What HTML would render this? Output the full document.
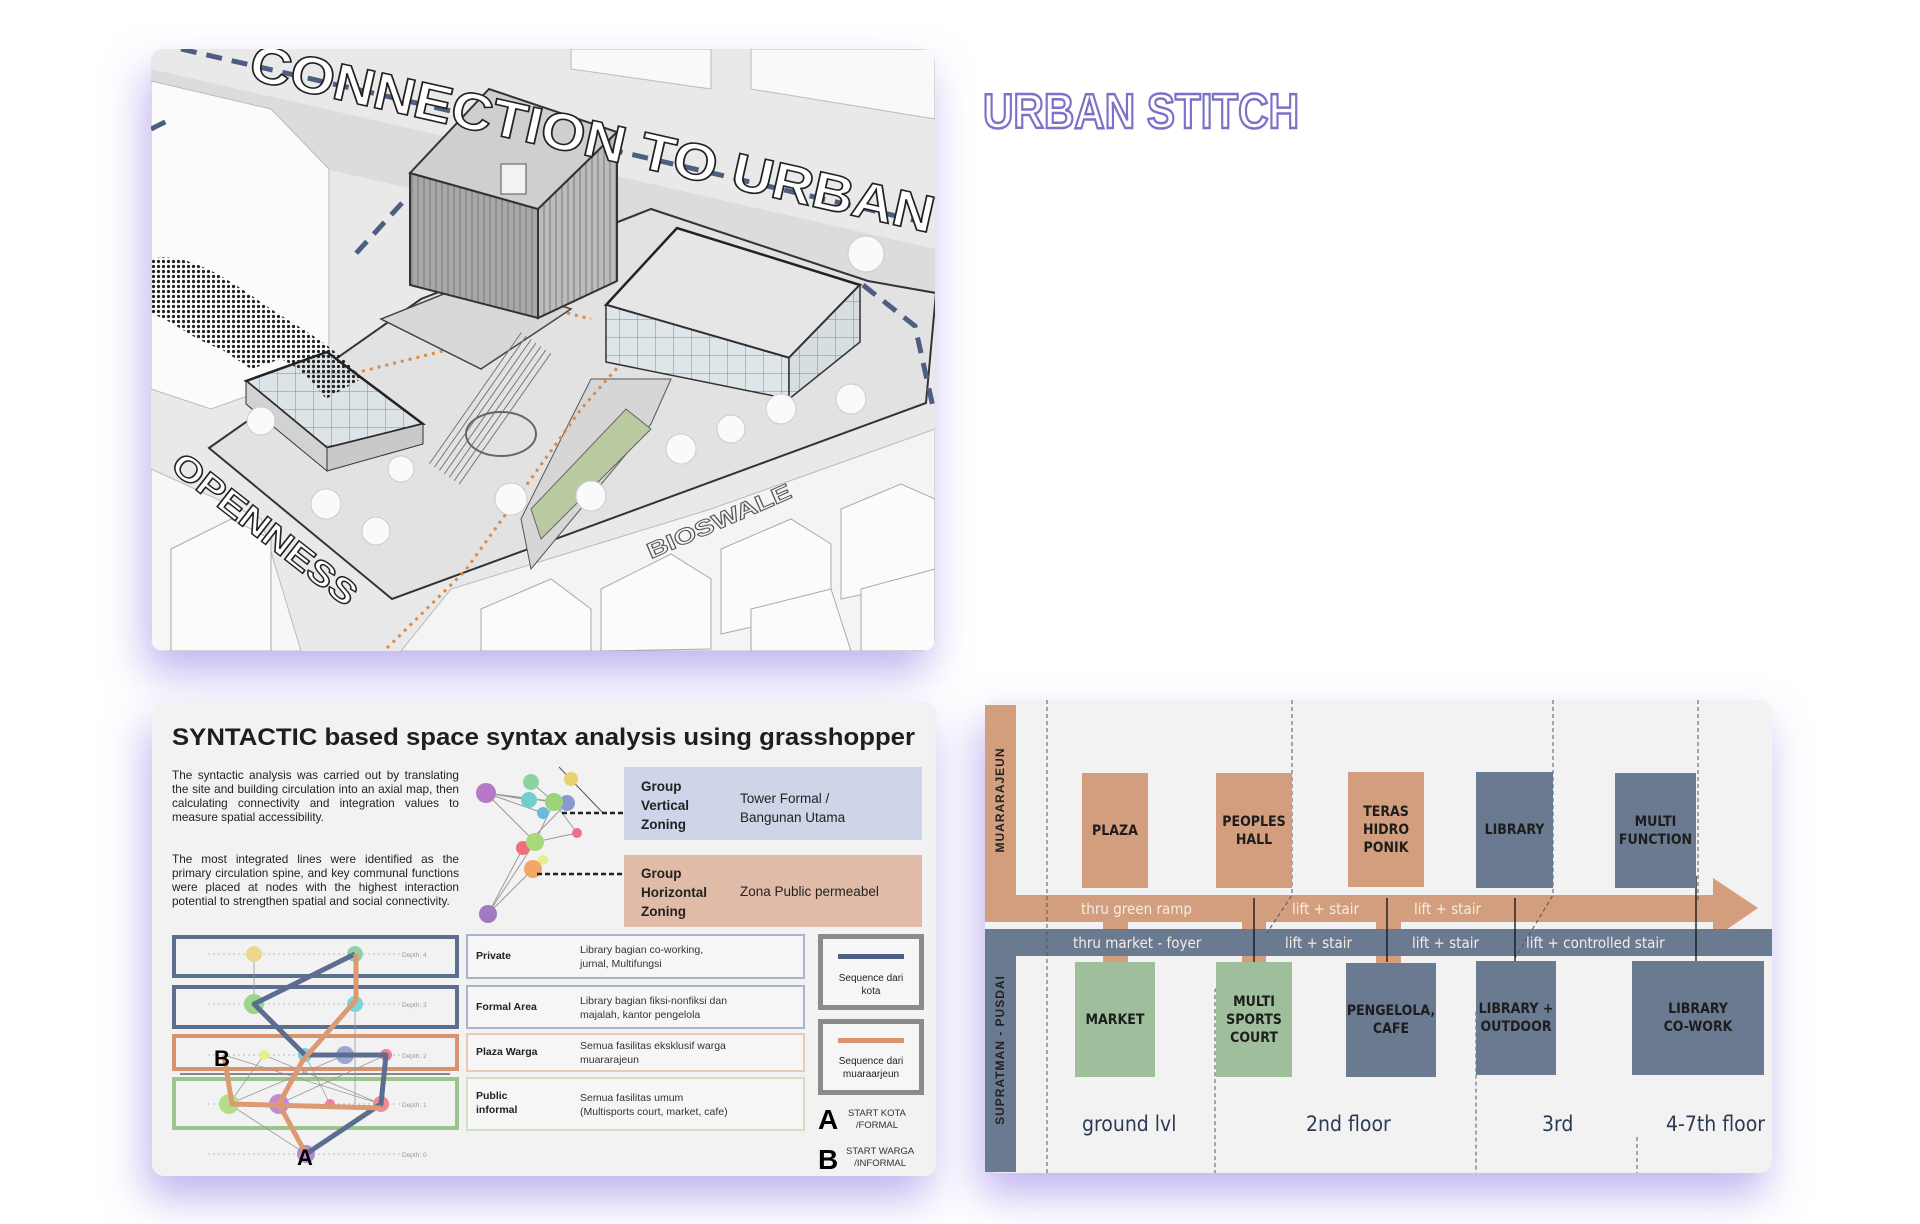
<!DOCTYPE html>
<html><head><meta charset="utf-8">
<style>
*{margin:0;padding:0;box-sizing:border-box}
body{width:1920px;height:1224px;background:#fff;position:relative;overflow:hidden;font-family:"Liberation Sans",sans-serif}
.abs{position:absolute}
.panel{position:absolute;border-radius:12px;overflow:hidden;box-shadow:-6px 22px 42px rgba(140,120,225,0.55)}
.cond{font-family:"Liberation Sans Narrow","DejaVu Sans Condensed","Liberation Sans",sans-serif}
.box{position:absolute;display:flex;align-items:center;justify-content:center;text-align:center;font-weight:bold;font-size:14px;line-height:18px;color:#1d1d1d}
.bl{position:absolute;color:#f4ece6;font-size:15px;white-space:nowrap}
.fl{position:absolute;color:#2c3a52;font-size:21px;white-space:nowrap}
.row{position:absolute;left:466px;width:339px;border:2px solid #aab4c8;background:#f6f6f6}
.rl{position:absolute;left:8px;font-weight:bold;font-size:10.5px;color:#222}
.rd{position:absolute;left:112px;font-size:10.5px;line-height:14px;color:#333}
.dep{position:absolute;left:172px;width:287px;border:4px solid #5d6e8e}
</style></head><body>

<svg class="abs" style="left:970px;top:80px" width="360" height="60">
<text x="13" y="48" font-family="Liberation Sans,sans-serif" font-weight="bold" font-size="49" fill="#fff" stroke="#7b72c8" stroke-width="2.5" textLength="316" lengthAdjust="spacingAndGlyphs">URBAN STITCH</text>
</svg>

<div class="panel" style="left:151px;top:49px;width:784px;height:602px;background:#ebebeb">
<svg width="784" height="602">
<defs>
<pattern id="dots" width="5" height="5" patternUnits="userSpaceOnUse"><circle cx="2.5" cy="2.5" r="1.6" fill="#222"/></pattern>
<pattern id="vl" width="6" height="10" patternUnits="userSpaceOnUse"><line x1="3" y1="0" x2="3" y2="10" stroke="#777" stroke-width="1"/></pattern>
<pattern id="grid" width="18" height="18" patternUnits="userSpaceOnUse"><path d="M0 0H18M0 0V18" stroke="#888" stroke-width="1" fill="none"/></pattern>
</defs>
<rect width="784" height="602" fill="#e9e9e9"/>
<polygon points="0,20 784,200 784,260 0,80" fill="#dcdcdc"/>
<polygon points="0,32 120,60 178,120 178,318 60,360 0,340" fill="#fbfbfb" stroke="#bbb"/>
<polygon points="0,420 110,470 150,602 0,602" fill="#f7f7f7" stroke="#bbb"/>
<polygon points="250,602 300,540 560,460 784,380 784,602" fill="#f4f4f4" stroke="#bbb"/>
<g fill="#fbfbfb" stroke="#aaa">
<polygon points="330,560 400,530 440,560 440,602 330,602"/>
<polygon points="450,540 520,505 560,530 560,600 450,602"/>
<polygon points="570,500 640,470 680,495 680,560 570,585"/>
<polygon points="690,460 750,435 784,450 784,530 690,550"/>
<polygon points="600,560 680,540 700,602 600,602"/>
<polygon points="710,540 784,520 784,602 710,602"/>
<polygon points="20,500 80,470 120,490 120,602 20,602"/>
</g>
<g fill="#f9f9f9" stroke="#bbb">
<polygon points="420,0 560,0 560,40 420,20"/>
<polygon points="600,0 784,0 784,70 600,40"/>
</g>
<polygon points="58,399 241,550 775,354 785,244 717,232 500,160 270,250" fill="#e2e2e2" stroke="#333" stroke-width="2"/>
<polygon points="380,520 500,375 520,330 440,330 370,470" fill="#d6d6d6" stroke="#555"/>
<polygon points="390,490 500,380 475,360 380,460" fill="#b9c9a0" stroke="#666"/>
<g stroke="#4d5f80" stroke-width="5" stroke-dasharray="16 10" fill="none">
<line x1="30" y1="0" x2="300" y2="62"/>
<line x1="380" y1="82" x2="784" y2="176"/>
<line x1="251" y1="154" x2="199" y2="211"/>
<polyline points="712,236 764,277 782,358"/>
<line x1="0" y1="80" x2="20" y2="70"/>
</g>
<polyline points="236,599 314,522 430,360 482,301 560,330" fill="none" stroke="#d98c4a" stroke-width="3" stroke-dasharray="3 5"/>
<polyline points="180,330 300,300 400,260 440,270" fill="none" stroke="#d98c4a" stroke-width="3" stroke-dasharray="3 5"/>
<polygon points="230,270 330,230 420,260 330,320" fill="#d8d8d8" stroke="#444" stroke-width="1.5"/>
<rect x="320" y="280" width="40" height="160" fill="url(#vl)" transform="rotate(35 340 360)"/>
<ellipse cx="350" cy="385" rx="35" ry="22" fill="none" stroke="#666" stroke-width="2"/>
<polygon points="259,124 387,160 387,269 259,236" fill="#a8a8a8"/>
<polygon points="259,124 387,160 387,269 259,236" fill="url(#vl)" stroke="#333" stroke-width="2"/>
<polygon points="387,160 466,83 466,232 387,269" fill="#bcbcbc"/>
<polygon points="387,160 466,83 466,232 387,269" fill="url(#vl)" stroke="#333" stroke-width="2"/>
<polygon points="259,124 338,40 466,83 387,160" fill="#cfcfcf" stroke="#333" stroke-width="2"/>
<rect x="350" y="115" width="25" height="30" fill="#f2f2f2" stroke="#555"/>
<polygon points="455,256 526,179 709,236 638,309" fill="#e6e6e6" stroke="#222" stroke-width="2.5"/>
<polygon points="455,256 638,309 638,350 455,313" fill="#dfe6ea"/>
<polygon points="455,256 638,309 638,350 455,313" fill="url(#grid)" stroke="#333" stroke-width="1.5"/>
<polygon points="638,309 709,236 709,293 638,350" fill="#d7dee2"/>
<polygon points="638,309 709,236 709,293 638,350" fill="url(#grid)" stroke="#333" stroke-width="1.5"/>
<polygon points="95,332 176,303 272,375 176,399" fill="#dde4e8"/>
<polygon points="95,332 176,303 272,375 176,399" fill="url(#grid)" stroke="#222" stroke-width="2.5"/>
<polygon points="176,399 272,375 272,395 176,422" fill="#c9c9c9" stroke="#333"/>
<polygon points="95,332 176,399 176,422 95,355" fill="#d2d2d2" stroke="#333"/>
<path d="M0,210 C40,200 90,240 120,260 C150,280 190,300 210,330 L175,350 C160,330 150,320 130,310 L100,320 L70,300 C40,290 20,270 0,265 Z" fill="url(#dots)"/>
<g fill="#fafafa" stroke="#ccc">
<circle cx="110" cy="372" r="14"/><circle cx="175" cy="455" r="15"/><circle cx="225" cy="482" r="14"/><circle cx="360" cy="450" r="16"/><circle cx="440" cy="447" r="15"/><circle cx="530" cy="400" r="15"/><circle cx="580" cy="380" r="14"/><circle cx="630" cy="360" r="15"/><circle cx="700" cy="350" r="15"/><circle cx="715" cy="205" r="18"/><circle cx="250" cy="420" r="13"/>
</g>
<text x="96" y="30" transform="rotate(12.7 96 30)" font-family="Liberation Sans,sans-serif" font-weight="bold" font-size="52" fill="#fff" stroke="#222" stroke-width="1.6" textLength="700" lengthAdjust="spacingAndGlyphs">CONNECTION TO URBAN</text>
<text x="18" y="420" transform="rotate(38 18 420)" font-family="Liberation Sans,sans-serif" font-weight="bold" font-size="34" fill="#fff" stroke="#222" stroke-width="1.4" textLength="225" lengthAdjust="spacingAndGlyphs">OPENNESS</text>
<text x="500" y="510" transform="rotate(-23.6 500 510)" font-family="Liberation Sans,sans-serif" font-weight="bold" font-size="22" fill="#f4f4f4" stroke="#555" stroke-width="1" textLength="155" lengthAdjust="spacingAndGlyphs">BIOSWALE</text>
</svg>
</div>

<div class="panel" style="left:152px;top:702px;width:784px;height:474px;background:#f2f2f2"></div>
<svg class="abs" style="left:170px;top:718px" width="760" height="40">
<text x="2" y="27" font-family="Liberation Sans,sans-serif" font-weight="bold" font-size="24" fill="#1e1e1e" textLength="743" lengthAdjust="spacingAndGlyphs">SYNTACTIC based space syntax analysis using grasshopper</text>
</svg>
<div class="abs" style="left:172px;top:768px;width:287px;font-size:11.8px;line-height:14px;color:#222;text-align:justify">The syntactic analysis was carried out by translating the site and building circulation into an axial map, then calculating connectivity and integration values to measure spatial accessibility.</div>
<div class="abs" style="left:172px;top:852px;width:287px;font-size:11.8px;line-height:14px;color:#222;text-align:justify">The most integrated lines were identified as the primary circulation spine, and key communal functions were placed at nodes with the highest interaction potential to strengthen spatial and social connectivity.</div>
<div class="abs" style="left:624px;top:767px;width:298px;height:73px;background:#cfd5e8"></div>
<div class="abs" style="left:624px;top:855px;width:298px;height:72px;background:#e0bca8"></div>
<div class="abs" style="left:641px;top:777px;font-weight:bold;font-size:13.5px;line-height:19px;color:#222">Group<br>Vertical<br>Zoning</div>
<div class="abs" style="left:740px;top:789px;font-size:13.5px;line-height:19px;color:#222">Tower Formal /<br>Bangunan Utama</div>
<div class="abs" style="left:641px;top:864px;font-weight:bold;font-size:13.5px;line-height:19px;color:#222">Group<br>Horizontal<br>Zoning</div>
<div class="abs" style="left:740px;top:884px;font-size:13.5px;color:#222;white-space:nowrap">Zona Public permeabel</div>

<div class="dep" style="top:935px;height:43px"></div>
<div class="dep" style="top:985px;height:44px"></div>
<div class="dep" style="top:1034px;height:37px;border-color:#d9936c"></div>
<div class="dep" style="top:1077px;height:53px;border-color:#9cc48f"></div>

<div class="row" style="top:934px;height:45px"><div class="rl" style="top:14px">Private</div><div class="rd" style="top:7px">Library bagian co-working,<br>jurnal, Multifungsi</div></div>
<div class="row" style="top:985px;height:44px"><div class="rl" style="top:14px">Formal Area</div><div class="rd" style="top:7px">Library bagian fiksi-nonfiksi dan<br>majalah, kantor pengelola</div></div>
<div class="row" style="top:1033px;height:39px;border-color:#e7cbb8"><div class="rl" style="top:11px">Plaza Warga</div><div class="rd" style="top:4px">Semua fasilitas eksklusif warga<br>muararajeun</div></div>
<div class="row" style="top:1077px;height:54px;border-color:#cfe0c5"><div class="rl" style="top:10px;line-height:14px">Public<br>informal</div><div class="rd" style="top:12px">Semua fasilitas umum<br>(Multisports court, market, cafe)</div></div>

<div class="abs" style="left:818px;top:934px;width:106px;height:76px;border:5px solid #8b8b8b;background:#f6f6f6"></div>
<div class="abs" style="left:838px;top:954px;width:66px;height:5px;background:#4e6186"></div>
<div class="abs" style="left:822px;top:972px;width:98px;text-align:center;font-size:10px;line-height:13px;color:#222">Sequence dari<br>kota</div>
<div class="abs" style="left:818px;top:1019px;width:106px;height:76px;border:5px solid #8b8b8b;background:#f6f6f6"></div>
<div class="abs" style="left:838px;top:1038px;width:66px;height:5px;background:#d9936c"></div>
<div class="abs" style="left:822px;top:1055px;width:98px;text-align:center;font-size:10px;line-height:13px;color:#222">Sequence dari<br>muaraarjeun</div>
<div class="abs" style="left:818px;top:1104px;font-weight:bold;font-size:28px;color:#000">A</div>
<div class="abs" style="left:848px;top:1108px;font-size:9.5px;line-height:12px;color:#333;text-align:center">START KOTA<br>/FORMAL</div>
<div class="abs" style="left:818px;top:1144px;font-weight:bold;font-size:28px;color:#000">B</div>
<div class="abs" style="left:846px;top:1146px;font-size:9.5px;line-height:12px;color:#333;text-align:center">START WARGA<br>/INFORMAL</div>

<svg class="abs" style="left:0;top:0" width="1920" height="1224">
<g stroke="#999" stroke-width="1" fill="none">
<line x1="486" y1="793" x2="554" y2="802"/><line x1="486" y1="793" x2="529" y2="800"/><line x1="486" y1="793" x2="567" y2="803"/><line x1="486" y1="793" x2="543" y2="813"/>
<line x1="486" y1="793" x2="535" y2="842"/><line x1="531" y1="782" x2="554" y2="802"/><line x1="554" y1="802" x2="535" y2="842"/><line x1="554" y1="802" x2="577" y2="833"/>
<line x1="535" y1="842" x2="577" y2="833"/><line x1="535" y1="842" x2="488" y2="914"/><line x1="523" y1="848" x2="488" y2="914"/><line x1="533" y1="869" x2="488" y2="914"/>
<line x1="567" y1="803" x2="523" y2="848"/><line x1="559" y1="767" x2="603" y2="813" stroke="#555"/>
</g>
<g>
<circle cx="486" cy="793" r="10" fill="#b47ac8"/><circle cx="531" cy="782" r="8" fill="#8cd3a4"/><circle cx="571" cy="779" r="7" fill="#ebd16b"/>
<circle cx="529" cy="800" r="8" fill="#6fcfcf"/><circle cx="567" cy="803" r="8" fill="#8a98d0"/><circle cx="554" cy="802" r="9" fill="#9dd37a"/>
<circle cx="543" cy="813" r="6" fill="#6bb9e0"/><circle cx="577" cy="833" r="5" fill="#ef6f8a"/><circle cx="523" cy="848" r="7" fill="#ef6f7a"/>
<circle cx="535" cy="842" r="9" fill="#a7d87a"/><circle cx="543" cy="860" r="5" fill="#e8ef8a"/><circle cx="533" cy="869" r="9" fill="#f2a766"/>
<circle cx="488" cy="914" r="9" fill="#a27ac0"/>
</g>
<g stroke="#222" stroke-width="2.5" stroke-dasharray="5 3">
<line x1="562" y1="813" x2="624" y2="813"/><line x1="537" y1="874" x2="624" y2="874"/>
</g>
<g stroke="#bbb" stroke-width="1" stroke-dasharray="2 3">
<line x1="208" y1="954" x2="400" y2="954"/><line x1="208" y1="1004" x2="400" y2="1004"/><line x1="208" y1="1055" x2="400" y2="1055"/><line x1="208" y1="1104" x2="400" y2="1104"/><line x1="208" y1="1154" x2="400" y2="1154"/>
</g>
<line x1="180" y1="1074" x2="450" y2="1074" stroke="#888" stroke-width="2"/>
<g font-size="6.5" fill="#999"><text x="402" y="957">Depth: 4</text><text x="402" y="1007">Depth: 3</text><text x="402" y="1058">Depth: 2</text><text x="402" y="1107">Depth: 1</text><text x="402" y="1157">Depth: 0</text></g>
<g stroke="#999" stroke-width="0.8">
<line x1="254" y1="954" x2="254" y2="1004"/><line x1="355" y1="954" x2="355" y2="1104"/><line x1="229" y1="1104" x2="264" y2="1055"/><line x1="229" y1="1104" x2="345" y2="1055"/><line x1="279" y1="1104" x2="386" y2="1055"/><line x1="229" y1="1104" x2="306" y2="1154"/><line x1="224" y1="1055" x2="381" y2="1104"/><line x1="305" y1="1055" x2="330" y2="1104"/><line x1="264" y1="1055" x2="381" y2="1104"/>
</g>
<g>
<circle cx="254" cy="954" r="8" fill="#ecd78a"/><circle cx="355" cy="954" r="8" fill="#8fd0a6"/>
<circle cx="254" cy="1004" r="10" fill="#9dd68a"/><circle cx="355" cy="1004" r="8" fill="#7ad6d6"/>
<circle cx="264" cy="1055" r="5" fill="#e9ef8a"/><circle cx="305" cy="1055" r="7" fill="#7ad0e0"/><circle cx="345" cy="1055" r="9" fill="#9aa6d6"/><circle cx="386" cy="1055" r="6" fill="#ef7f95"/>
<circle cx="229" cy="1104" r="10" fill="#b4dc8a"/><circle cx="279" cy="1104" r="10" fill="#c48ad0"/><circle cx="330" cy="1104" r="5" fill="#ef7fa0"/><circle cx="381" cy="1104" r="8" fill="#ef8a95"/>
<circle cx="306" cy="1154" r="9" fill="#b48ad0"/>
</g>
<polyline points="306,1154 381,1104 386,1055 305,1055 254,1004 355,954" fill="none" stroke="#5b6d90" stroke-width="5" stroke-linejoin="round"/>
<polyline points="224,1055 232,1104 381,1108" fill="none" stroke="#dc9a72" stroke-width="5" stroke-linejoin="round"/>
<polyline points="306,1154 279,1104 303,1060 356,1000 356,954" fill="none" stroke="#dc9a72" stroke-width="5" stroke-linejoin="round"/>
<text x="214" y="1066" font-weight="bold" font-size="22" fill="#000" font-family="Liberation Sans,sans-serif">B</text>
<text x="297" y="1165" font-weight="bold" font-size="22" fill="#000" font-family="Liberation Sans,sans-serif">A</text>
</svg>

<div class="panel" style="left:985px;top:700px;width:787px;height:473px;background:#f2f2f2"></div>
<div class="abs" style="left:985px;top:705px;width:31px;height:190px;background:#d39e7e"></div>
<div class="abs" style="left:985px;top:929px;width:31px;height:243px;background:#6a7a90"></div>
<div class="abs" style="left:985px;top:895px;width:728px;height:27px;background:#d39e7e"></div>
<svg class="abs" style="left:1700px;top:870px" width="70" height="75"><polygon points="13,8 58,38 13,69" fill="#d39e7e"/></svg>
<div class="abs" style="left:1103px;top:920px;width:25px;height:44px;background:#d39e7e"></div>
<div class="abs" style="left:1242px;top:920px;width:24px;height:44px;background:#d39e7e"></div>
<div class="abs" style="left:1376px;top:920px;width:25px;height:44px;background:#d39e7e"></div>
<div class="abs" style="left:985px;top:929px;width:787px;height:27px;background:#6a7a90"></div>
<svg class="abs" style="left:985px;top:700px" width="787" height="473">
<g stroke="#555" stroke-width="1" stroke-dasharray="4 3" fill="none">
<line x1="62" y1="0" x2="62" y2="473"/>
<polyline points="307,0 307,195 282,233"/><polyline points="254,262 230,290 230,473"/>
<polyline points="568,0 568,195 530,258"/><polyline points="520,272 491,312 491,473"/>
<line x1="713" y1="0" x2="713" y2="200"/><line x1="652" y1="437" x2="652" y2="473"/>
</g>
<g stroke="#111" stroke-width="1.3">
<line x1="269" y1="198" x2="269" y2="262"/><line x1="402" y1="198" x2="402" y2="262"/><line x1="530" y1="198" x2="530" y2="262"/><line x1="711" y1="176" x2="711" y2="262"/>
</g>
</svg>
<div class="box cond" style="left:1082px;top:773px;width:66px;height:115px;background:#d39e7e">PLAZA</div>
<div class="box cond" style="left:1216px;top:773px;width:76px;height:115px;background:#d39e7e">PEOPLES<br>HALL</div>
<div class="box cond" style="left:1348px;top:772px;width:76px;height:115px;background:#d39e7e">TERAS<br>HIDRO<br>PONIK</div>
<div class="box cond" style="left:1476px;top:772px;width:77px;height:116px;background:#6a7a90">LIBRARY</div>
<div class="box cond" style="left:1615px;top:773px;width:81px;height:115px;background:#6a7a90">MULTI<br>FUNCTION</div>
<div class="box cond" style="left:1075px;top:962px;width:80px;height:115px;background:#9fbf9c">MARKET</div>
<div class="box cond" style="left:1216px;top:962px;width:76px;height:115px;background:#9fbf9c">MULTI<br>SPORTS<br>COURT</div>
<div class="box cond" style="left:1346px;top:963px;width:90px;height:114px;background:#6a7a90">PENGELOLA,<br>CAFE</div>
<div class="box cond" style="left:1476px;top:961px;width:80px;height:114px;background:#6a7a90">LIBRARY +<br>OUTDOOR</div>
<div class="box cond" style="left:1632px;top:961px;width:132px;height:114px;background:#6a7a90">LIBRARY<br>CO-WORK</div>
<div class="bl cond" style="left:1081px;top:900px">thru green ramp</div>
<div class="bl cond" style="left:1292px;top:900px">lift + stair</div>
<div class="bl cond" style="left:1414px;top:900px">lift + stair</div>
<div class="bl cond" style="left:1073px;top:934px">thru market - foyer</div>
<div class="bl cond" style="left:1285px;top:934px">lift + stair</div>
<div class="bl cond" style="left:1412px;top:934px">lift + stair</div>
<div class="bl cond" style="left:1526px;top:934px">lift + controlled stair</div>
<div class="fl cond" style="left:1082px;top:1112px">ground lvl</div>
<div class="fl cond" style="left:1306px;top:1112px">2nd floor</div>
<div class="fl cond" style="left:1542px;top:1112px">3rd</div>
<div class="fl cond" style="left:1666px;top:1112px">4-7th floor</div>
<div class="abs" style="left:1000px;top:800px;transform:translate(-50%,-50%) rotate(-90deg);font-weight:bold;font-size:12px;letter-spacing:1px;color:#222;white-space:nowrap">MUARARAJEUN</div>
<div class="abs" style="left:1000px;top:1050px;transform:translate(-50%,-50%) rotate(-90deg);font-weight:bold;font-size:12px;letter-spacing:1px;color:#222;white-space:nowrap">SUPRATMAN - PUSDAI</div>
</body></html>
